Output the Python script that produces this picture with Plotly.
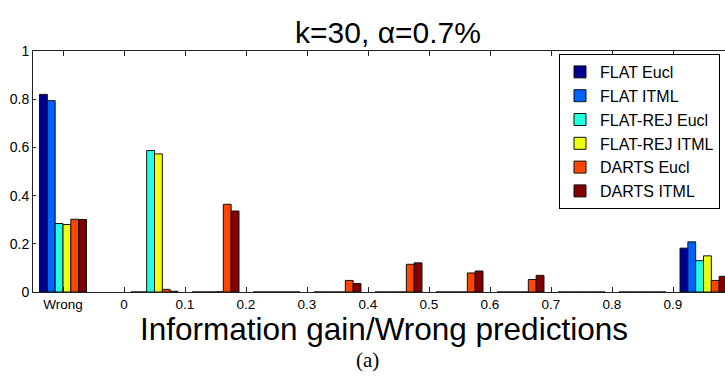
import plotly.graph_objects as go

# ---- data ----
series_names = ["FLAT Eucl", "FLAT ITML", "FLAT-REJ Eucl", "FLAT-REJ ITML", "DARTS Eucl", "DARTS ITML"]
series_colors = ["#000090", "#0062FF", "#20FFDF", "#EFFF10", "#FF4500", "#800000"]

# bin positions in information-gain units; "Wrong" is placed one tick left of 0
bin_centers = [-0.1, 0.05, 0.15, 0.25, 0.35, 0.45, 0.55, 0.65, 0.75, 0.85, 0.95]

flat_eucl     = [0.820, 0.0,   0.0,   0.0, 0.0,   0.0,   0.0,   0.0,   0.0, 0.0, 0.182]
flat_itml     = [0.794, 0.0,   0.0,   0.0, 0.0,   0.0,   0.0,   0.0,   0.0, 0.0, 0.208]
flatrej_eucl  = [0.284, 0.587, 0.0,   0.0, 0.0,   0.0,   0.0,   0.0,   0.0, 0.0, 0.130]
flatrej_itml  = [0.280, 0.573, 0.001, 0.0, 0.0,   0.0,   0.0,   0.0,   0.0, 0.0, 0.150]
darts_eucl    = [0.302, 0.011, 0.364, 0.0, 0.048, 0.115, 0.079, 0.052, 0.0, 0.0, 0.048]
darts_itml    = [0.301, 0.003, 0.336, 0.0, 0.035, 0.121, 0.087, 0.069, 0.0, 0.0, 0.065]
series_values = [flat_eucl, flat_itml, flatrej_eucl, flatrej_itml, darts_eucl, darts_itml]

tick_vals = [-0.1, 0.0, 0.1, 0.2, 0.3, 0.4, 0.5, 0.6, 0.7, 0.8, 0.9, 1.0]
tick_text = ["Wrong", "0", "0.1", "0.2", "0.3", "0.4", "0.5", "0.6", "0.7", "0.8", "0.9", "1"]
y_tick_vals = [0, 0.2, 0.4, 0.6, 0.8, 1]
y_tick_text = ["0", "0.2", "0.4", "0.6", "0.8", "1"]

title_text = "k=30, α=0.7%"
xlabel_text = "Information gain/Wrong predictions"
caption_text = "(a)"

# ---- figure ----
W, H = 725, 381
ML, MT, MB, MR = 33, 51, 89, 0
PW, PH = W - ML - MR, H - MT - MB
FONT = "Liberation Sans, Arial, sans-serif"

fig = go.Figure()
for name, color, vals in zip(series_names, series_colors, series_values):
    fig.add_trace(go.Bar(
        x=bin_centers, y=vals, name=name,
        marker=dict(color=color, line=dict(color="#111111", width=1)),
    ))

fig.update_layout(
    width=W, height=H,
    margin=dict(l=ML, r=MR, t=MT, b=MB, pad=0),
    paper_bgcolor="white", plot_bgcolor="white",
    barmode="group", bargap=0.23, bargroupgap=0.0,
    font=dict(family=FONT, color="black", size=14),
    title=dict(text=title_text, x=388 / W, xanchor="center",
               yref="container", y=1 - 32 / H, yanchor="middle",
               font=dict(size=30, family=FONT, color="black")),
    showlegend=True,
    legend=dict(
        x=(559 - ML) / PW, y=1 - (54 - MT) / PH,
        xanchor="left", yanchor="top",
        bgcolor="white", bordercolor="black", borderwidth=1,
        font=dict(size=16, family=FONT, color="black"),
        tracegroupgap=0, itemwidth=30,
    ),
)

fig.update_xaxes(
    range=[-0.1 - 30 / 610, -0.1 + (W - 63) / 610],
    tickmode="array", tickvals=tick_vals, ticktext=tick_text,
    ticks="inside", ticklen=5, tickwidth=1, tickcolor="#222222",
    showline=True, linecolor="#222222", linewidth=1, mirror="ticks",
    showgrid=False, zeroline=False,
    tickfont=dict(size=13.5, family=FONT, color="black"),
)
fig.update_yaxes(
    range=[0, 1],
    tickmode="array", tickvals=y_tick_vals, ticktext=y_tick_text,
    ticks="inside", ticklen=3, tickwidth=1, tickcolor="#222222",
    showline=True, linecolor="#222222", linewidth=1, mirror=False,
    showgrid=False, zeroline=False,
    tickfont=dict(size=14, family=FONT, color="black"),
)

# x-axis label
fig.add_annotation(
    text=xlabel_text, xref="paper", yref="paper",
    x=(383.5 - ML) / PW, y=(292 - 329) / PH,
    xanchor="center", yanchor="middle", showarrow=False,
    font=dict(size=31.5, family=FONT, color="black"),
)
# caption
fig.add_annotation(
    text=caption_text, xref="paper", yref="paper",
    x=(367.5 - ML) / PW, y=(292 - 360) / PH,
    xanchor="center", yanchor="middle", showarrow=False,
    font=dict(size=21, family="Liberation Serif, DejaVu Serif, serif", color="black"),
)

fig.write_html("out.html")
